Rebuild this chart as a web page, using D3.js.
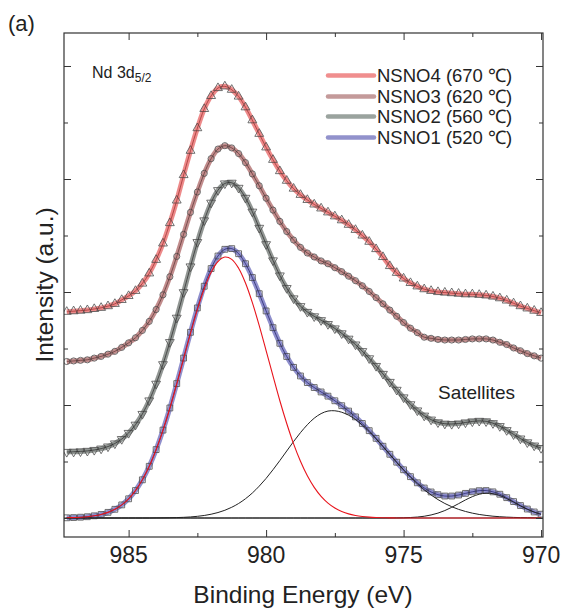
<!DOCTYPE html>
<html>
<head>
<meta charset="utf-8">
<script src="https://cdn.jsdelivr.net/npm/d3@7"></script>
<style>
  body { margin: 0; background: #fff; }
  text { font-family: "Liberation Sans", Arial, sans-serif; fill: #222; }
</style>
</head>
<body>
<svg id="chart" width="568" height="615"></svg>
<script>
// Binding energy grid (eV), high to low
const energy = [987.25, 987.0, 986.75, 986.5, 986.25, 986.0, 985.75, 985.5, 985.25, 985.0,
  984.75, 984.5, 984.25, 984.0, 983.75, 983.5, 983.25, 983.0, 982.75, 982.5,
  982.25, 982.0, 981.75, 981.5, 981.25, 981.0, 980.75, 980.5, 980.25, 980.0,
  979.75, 979.5, 979.25, 979.0, 978.75, 978.5, 978.25, 978.0, 977.75, 977.5,
  977.25, 977.0, 976.75, 976.5, 976.25, 976.0, 975.75, 975.5, 975.25, 975.0,
  974.75, 974.5, 974.25, 974.0, 973.75, 973.5, 973.25, 973.0, 972.75, 972.5,
  972.25, 972.0, 971.75, 971.5, 971.25, 971.0, 970.75, 970.5, 970.25, 970.0];

// Stacked spectra (intensity, a.u., with vertical offsets)
const nsno4 = [3.65, 3.66, 3.67, 3.68, 3.70, 3.72, 3.75, 3.79, 3.86, 3.93,
  4.02, 4.15, 4.33, 4.57, 4.86, 5.22, 5.62, 6.07, 6.50, 6.90,
  7.24, 7.47, 7.61, 7.64, 7.58, 7.46, 7.27, 7.04, 6.80, 6.56,
  6.34, 6.14, 5.97, 5.83, 5.72, 5.63, 5.55, 5.48, 5.41, 5.34,
  5.27, 5.19, 5.10, 5.00, 4.89, 4.76, 4.62, 4.46, 4.34, 4.24,
  4.16, 4.10, 4.05, 4.02, 4.00, 3.99, 3.98, 3.97, 3.96, 3.96,
  3.95, 3.94, 3.92, 3.89, 3.85, 3.80, 3.75, 3.71, 3.67, 3.63];

const nsno3 = [2.77, 2.78, 2.79, 2.80, 2.83, 2.86, 2.90, 2.95, 3.02, 3.10,
  3.19, 3.32, 3.48, 3.69, 3.95, 4.27, 4.63, 5.02, 5.41, 5.77,
  6.10, 6.36, 6.53, 6.59, 6.55, 6.45, 6.29, 6.09, 5.88, 5.66,
  5.45, 5.25, 5.07, 4.92, 4.79, 4.69, 4.62, 4.55, 4.50, 4.43,
  4.36, 4.28, 4.20, 4.11, 4.01, 3.90, 3.79, 3.68, 3.57, 3.46,
  3.36, 3.28, 3.20, 3.18, 3.16, 3.15, 3.15, 3.15, 3.16, 3.17,
  3.17, 3.17, 3.15, 3.11, 3.07, 3.01, 2.96, 2.91, 2.87, 2.83];

const nsno2 = [1.169, 1.173, 1.179, 1.188, 1.204, 1.228, 1.265, 1.319, 1.397, 1.505,
  1.651, 1.841, 2.080, 2.376, 2.721, 3.113, 3.544, 3.996, 4.452, 4.883,
  5.267, 5.580, 5.802, 5.921, 5.933, 5.843, 5.666, 5.421, 5.135, 4.845,
  4.559, 4.292, 4.069, 3.886, 3.749, 3.647, 3.569, 3.501, 3.432, 3.355,
  3.268, 3.173, 3.070, 2.953, 2.826, 2.690, 2.550, 2.408, 2.268, 2.134,
  2.012, 1.903, 1.811, 1.741, 1.693, 1.669, 1.664, 1.672, 1.691, 1.709,
  1.719, 1.711, 1.678, 1.626, 1.555, 1.481, 1.406, 1.339, 1.282, 1.238];

const nsno1 = [0.004, 0.008, 0.014, 0.023, 0.039, 0.063, 0.100, 0.154, 0.232, 0.340,
  0.486, 0.676, 0.915, 1.211, 1.556, 1.948, 2.379, 2.831, 3.287, 3.718,
  4.102, 4.415, 4.637, 4.756, 4.768, 4.678, 4.501, 4.256, 3.970, 3.665,
  3.369, 3.092, 2.859, 2.666, 2.514, 2.397, 2.309, 2.231, 2.157, 2.075,
  1.988, 1.893, 1.790, 1.673, 1.546, 1.410, 1.270, 1.128, 0.988, 0.854,
  0.732, 0.623, 0.531, 0.461, 0.413, 0.389, 0.389, 0.407, 0.436, 0.464,
  0.484, 0.486, 0.463, 0.421, 0.360, 0.291, 0.221, 0.159, 0.107, 0.068];

// Peak components of NSNO1: main Nd 3d5/2 line and two satellites
const mainPeak = [0.004, 0.008, 0.014, 0.023, 0.039, 0.063, 0.100, 0.154, 0.232, 0.340,
  0.486, 0.676, 0.915, 1.209, 1.553, 1.943, 2.371, 2.819, 3.268, 3.688,
  4.057, 4.348, 4.540, 4.619, 4.578, 4.421, 4.160, 3.813, 3.406, 2.964,
  2.515, 2.075, 1.673, 1.312, 1.003, 0.746, 0.542, 0.383, 0.264, 0.177,
  0.116, 0.073, 0.046, 0.028, 0.016, 0.009, 0.005, 0.003, 0.001, 0,
  0, 0, 0, 0, 0, 0, 0, 0, 0, 0,
  0, 0, 0, 0, 0, 0, 0, 0, 0, 0];

const satellite1 = [0, 0, 0, 0, 0, 0, 0, 0, 0, 0,
  0, 0, 0, 0.002, 0.003, 0.005, 0.008, 0.012, 0.019, 0.030,
  0.045, 0.067, 0.097, 0.137, 0.190, 0.257, 0.341, 0.443, 0.564, 0.701,
  0.854, 1.017, 1.186, 1.354, 1.511, 1.651, 1.767, 1.848, 1.893, 1.898,
  1.872, 1.820, 1.744, 1.645, 1.530, 1.401, 1.265, 1.124, 0.985, 0.850,
  0.723, 0.606, 0.500, 0.407, 0.326, 0.257, 0.200, 0.153, 0.116, 0.086,
  0.063, 0.046, 0.032, 0.023, 0.016, 0.011, 0.007, 0.005, 0.003, 0.002];

const satellite2 = [0, 0, 0, 0, 0, 0, 0, 0, 0, 0,
  0, 0, 0, 0, 0, 0, 0, 0, 0, 0,
  0, 0, 0, 0, 0, 0, 0, 0, 0, 0,
  0, 0, 0, 0, 0, 0, 0, 0, 0, 0,
  0, 0, 0, 0, 0, 0, 0, 0.001, 0.002, 0.004,
  0.009, 0.017, 0.031, 0.054, 0.087, 0.132, 0.189, 0.254, 0.320, 0.378,
  0.421, 0.440, 0.431, 0.398, 0.344, 0.280, 0.214, 0.154, 0.104, 0.066];

const seriesLabels = ["NSNO4 (670 \u2103)", "NSNO3 (620 \u2103)", "NSNO2 (560 \u2103)", "NSNO1 (520 \u2103)"];
const xMajorTicks = [985, 980, 975, 970];
const xMinorTicks = [982.5, 977.5, 972.5];
const yMajorTicks = [0, 2, 4, 6, 8];
const yMinorTicks = [1, 3, 5, 7];

const series = [
  { values: nsno4, band: "rgba(232,105,105,0.78)", line: "#9a2a2a", legend: "#f08e8e", marker: "triangle" },
  { values: nsno3, band: "rgba(176,108,108,0.78)", line: "#5a3030", legend: "#c49a9a", marker: "circle" },
  { values: nsno2, band: "rgba(118,124,120,0.8)", line: "#2a2a2a", legend: "#9aa39e", marker: "triangleDown" },
  { values: nsno1, band: "rgba(112,112,190,0.78)", line: "#1c1c66", legend: "#9292cc", marker: "square" }
];

const svg = d3.select("#chart");
const pL = 64, pR = 543, pT = 33, pB = 537;
const x = d3.scaleLinear().domain([987.35, 969.93]).range([pL, pR]);
const y = d3.scaleLinear().domain([-0.336, 8.584]).range([pB, pT]);

const plot = svg.append("g");
plot.append("clipPath").attr("id", "clip")
  .append("rect").attr("x", pL).attr("y", pT).attr("width", pR - pL).attr("height", pB - pT);
const area = plot.append("g").attr("clip-path", "url(#clip)");

const lineOf = vals => d3.line()
  .x((d, i) => x(energy[i]))
  .y(d => y(d))
  .curve(d3.curveCatmullRom.alpha(0.5))(vals);

// zero baseline of the fitted components
area.append("line")
  .attr("x1", pL).attr("x2", pR)
  .attr("y1", y(0)).attr("y2", y(0))
  .attr("stroke", "#333").attr("stroke-width", 1.1);

// broad fitted envelopes
series.forEach(s => {
  area.append("path").attr("d", lineOf(s.values))
    .attr("fill", "none").attr("stroke", s.band)
    .attr("stroke-width", 5).attr("stroke-linejoin", "round");
});

// measured points
const symbolTypes = {
  triangle: d3.symbolTriangle,
  triangleDown: d3.symbolTriangle,
  circle: d3.symbolCircle,
  square: d3.symbolSquare
};
series.forEach(s => {
  const sym = d3.symbol().type(symbolTypes[s.marker]).size(s.marker === "circle" ? 30 : 34);
  area.append("g").selectAll("path").data(s.values).join("path")
    .attr("d", sym)
    .attr("transform", (d, i) => `translate(${x(energy[i])},${y(d)})` + (s.marker === "triangleDown" ? " rotate(180)" : ""))
    .attr("fill", "none").attr("stroke", "#4d4d4d").attr("stroke-width", 0.8);
});

// thin fit lines
series.forEach(s => {
  area.append("path").attr("d", lineOf(s.values))
    .attr("fill", "none").attr("stroke", s.line).attr("stroke-width", 0.7);
});

// components
[satellite1, satellite2].forEach(c => {
  area.append("path").attr("d", lineOf(c))
    .attr("fill", "none").attr("stroke", "#222").attr("stroke-width", 1);
});
area.append("path").attr("d", lineOf(mainPeak))
  .attr("fill", "none").attr("stroke", "#e8141c").attr("stroke-width", 1.1);

// frame and inward ticks
const axes = svg.append("g");
function tickAxis(gen, tr, vals, size) {
  const g = axes.append("g").attr("transform", tr)
    .call(gen.tickValues(vals).tickSize(size).tickSizeOuter(0).tickFormat(""));
  g.select(".domain").remove();
  g.selectAll(".tick line").attr("stroke", "#333").attr("stroke-width", 1);
  return g;
}
tickAxis(d3.axisBottom(x), `translate(0,${pB})`, xMajorTicks, -7);
tickAxis(d3.axisBottom(x), `translate(0,${pB})`, xMinorTicks, -4);
tickAxis(d3.axisTop(x), `translate(0,${pT})`, xMajorTicks, -7);
tickAxis(d3.axisTop(x), `translate(0,${pT})`, xMinorTicks, -4);
tickAxis(d3.axisLeft(y), `translate(${pL},0)`, yMajorTicks, -7);
tickAxis(d3.axisLeft(y), `translate(${pL},0)`, yMinorTicks, -4);
tickAxis(d3.axisRight(y), `translate(${pR},0)`, yMajorTicks, -7);
tickAxis(d3.axisRight(y), `translate(${pR},0)`, yMinorTicks, -4);

axes.append("rect").attr("x", pL).attr("y", pT)
  .attr("width", pR - pL).attr("height", pB - pT)
  .attr("fill", "none").attr("stroke", "#333").attr("stroke-width", 1.2);

// x tick labels
axes.append("g").selectAll("text").data(xMajorTicks).join("text")
  .attr("x", d => x(d)).attr("y", 563)
  .attr("text-anchor", "middle").attr("font-size", 23)
  .text(d => d);

// axis titles
svg.append("text").attr("x", 303).attr("y", 603)
  .attr("text-anchor", "middle").attr("font-size", 24.5)
  .text("Binding Energy (eV)");
svg.append("text")
  .attr("transform", "translate(53,285) rotate(-90)")
  .attr("text-anchor", "middle").attr("font-size", 24.5)
  .text("Intensity (a.u.)");

// panel label and annotations
svg.append("text").attr("x", 8).attr("y", 31).attr("font-size", 22).text("(a)");
const nd = svg.append("text").attr("x", 92).attr("y", 78).attr("font-size", 16);
nd.append("tspan").text("Nd 3d");
nd.append("tspan").attr("font-size", 12).attr("dy", 4).text("5/2");
svg.append("text").attr("x", 438).attr("y", 399).attr("font-size", 19).text("Satellites");

// legend
const legend = svg.append("g");
const rowBase = [82, 103, 123, 144];
series.forEach((s, i) => {
  legend.append("line")
    .attr("x1", 328).attr("x2", 374)
    .attr("y1", rowBase[i] - 6.5).attr("y2", rowBase[i] - 6.5)
    .attr("stroke", s.legend).attr("stroke-width", 4.5).attr("stroke-linecap", "round");
  legend.append("text").attr("x", 377).attr("y", rowBase[i])
    .attr("font-size", 18.5).text(seriesLabels[i]);
});
</script>
</body>
</html>
